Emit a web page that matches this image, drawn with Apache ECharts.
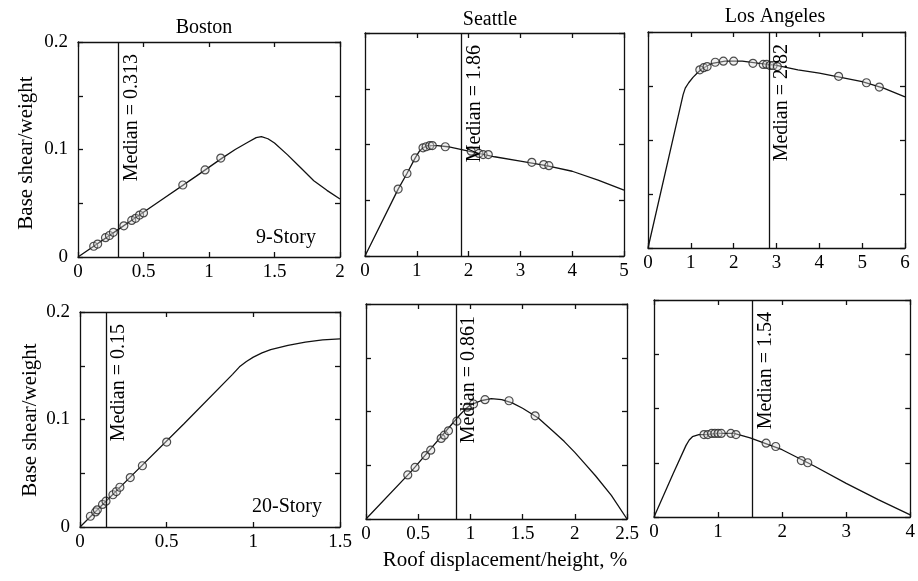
<!DOCTYPE html>
<html><head><meta charset="utf-8">
<script src="https://cdn.jsdelivr.net/npm/echarts@6/dist/echarts.min.js"></script>
<style>html,body{margin:0;padding:0;background:#fff}#c{width:918px;height:581px}</style>
</head><body><div id="c"></div>
<script>
// ---- text ----
const cityTitles = ['Boston', 'Seattle', 'Los Angeles'];
const storyLabels = ['9-Story', '20-Story'];
const yAxisTitle = 'Base shear/weight';
const xAxisTitle = 'Roof displacement/height, %';

// ---- axes ----
const xMax = [2, 5, 6, 1.5, 2.5, 4];
const xInterval = [0.5, 1, 1, 0.5, 0.5, 1];
const yMax = 0.2;
const yInterval = 0.05;
const yLabelValues = [0, 0.1, 0.2];

// ---- medians ----
const medians = [0.313, 1.86, 2.82, 0.15, 0.861, 1.54];
const medianLabels = ['Median = 0.313', 'Median = 1.86', 'Median = 2.82', 'Median = 0.15', 'Median = 0.861', 'Median = 1.54'];

// ---- pushover curves ----
const b9CurveX = [0, 0.3, 0.6, 0.9, 1.1, 1.2, 1.3, 1.36, 1.4, 1.45, 1.5, 1.6, 1.7, 1.8, 1.9, 2.0];
const b9CurveY = [0, 0.025, 0.050, 0.075, 0.092, 0.100, 0.107, 0.111, 0.112, 0.110, 0.106, 0.095, 0.083, 0.071, 0.062, 0.054];
const s9CurveX = [0, 0.64, 0.81, 0.97, 1.05, 1.12, 1.2, 1.4, 1.6, 1.8, 2.0, 2.5, 3.0, 3.5, 4.0, 4.5, 5.0];
const s9CurveY = [0, 0.060, 0.074, 0.088, 0.094, 0.097, 0.099, 0.099, 0.098, 0.096, 0.094, 0.089, 0.085, 0.081, 0.076, 0.068, 0.059];
const la9CurveX = [0, 0.82, 0.87, 0.95, 1.05, 1.15, 1.26, 1.4, 1.5, 1.8, 2.2, 2.6, 3.0, 3.5, 4.0, 4.5, 5.0, 5.5, 6.0];
const la9CurveY = [0, 0.142, 0.148, 0.153, 0.158, 0.162, 0.166, 0.169, 0.171, 0.173, 0.173, 0.171, 0.169, 0.165, 0.162, 0.158, 0.154, 0.148, 0.140];
const b20CurveX = [0, 0.3, 0.6, 0.88, 0.92, 0.96, 1.0, 1.05, 1.1, 1.2, 1.3, 1.4, 1.5];
const b20CurveY = [0, 0.048, 0.096, 0.142, 0.149, 0.154, 0.158, 0.162, 0.165, 0.169, 0.172, 0.174, 0.175];
const s20CurveX = [0, 0.44, 0.9, 0.95, 1.0, 1.05, 1.1, 1.2, 1.3, 1.4, 1.5, 1.65, 1.8, 1.9, 2.0, 2.1, 2.2, 2.35, 2.5];
const s20CurveY = [0, 0.045, 0.097, 0.102, 0.106, 0.108, 0.110, 0.112, 0.111, 0.108, 0.103, 0.094, 0.081, 0.072, 0.062, 0.051, 0.040, 0.022, 0];
const la20CurveX = [0, 0.3, 0.5, 0.55, 0.6, 0.7, 0.8, 1.0, 1.25, 1.5, 2.0, 2.5, 3.0, 3.5, 4.0];
const la20CurveY = [0, 0.040, 0.066, 0.071, 0.074, 0.076, 0.076, 0.077, 0.077, 0.073, 0.062, 0.047, 0.031, 0.016, 0.002];

// ---- ground-motion points ----
const b9PtsX = [0.12, 0.15, 0.21, 0.24, 0.27, 0.35, 0.41, 0.44, 0.47, 0.5, 0.8, 0.97, 1.09];
const b9PtsY = [0.010, 0.012, 0.018, 0.020, 0.023, 0.029, 0.034, 0.036, 0.039, 0.041, 0.067, 0.081, 0.092];
const s9PtsX = [0.64, 0.81, 0.97, 1.12, 1.18, 1.25, 1.3, 1.55, 2.05, 2.2, 2.28, 2.38, 3.22, 3.45, 3.55];
const s9PtsY = [0.060, 0.074, 0.088, 0.097, 0.098, 0.099, 0.099, 0.098, 0.094, 0.092, 0.091, 0.091, 0.084, 0.082, 0.081];
const la9PtsX = [1.21, 1.3, 1.38, 1.57, 1.76, 2.0, 2.45, 2.69, 2.77, 2.85, 2.92, 3.02, 4.45, 5.1, 5.4];
const la9PtsY = [0.165, 0.167, 0.168, 0.172, 0.173, 0.173, 0.171, 0.170, 0.170, 0.169, 0.169, 0.168, 0.159, 0.153, 0.149];
const b20PtsX = [0.06, 0.09, 0.1, 0.13, 0.15, 0.19, 0.21, 0.23, 0.29, 0.36, 0.5];
const b20PtsY = [0.010, 0.014, 0.016, 0.021, 0.024, 0.030, 0.033, 0.037, 0.046, 0.057, 0.079];
const s20PtsX = [0.4, 0.47, 0.57, 0.62, 0.72, 0.75, 0.79, 0.87, 0.97, 1.03, 1.14, 1.37, 1.62];
const s20PtsY = [0.041, 0.048, 0.059, 0.064, 0.075, 0.078, 0.082, 0.091, 0.104, 0.107, 0.111, 0.110, 0.096];
const la20PtsX = [0.78, 0.84, 0.9, 0.95, 1.0, 1.05, 1.2, 1.28, 1.75, 1.9, 2.3, 2.4];
const la20PtsY = [0.076, 0.076, 0.077, 0.077, 0.077, 0.077, 0.077, 0.076, 0.068, 0.065, 0.052, 0.050];

const curves = [[b9CurveX, b9CurveY], [s9CurveX, s9CurveY], [la9CurveX, la9CurveY], [b20CurveX, b20CurveY], [s20CurveX, s20CurveY], [la20CurveX, la20CurveY]];
const points = [[b9PtsX, b9PtsY], [s9PtsX, s9PtsY], [la9PtsX, la9PtsY], [b20PtsX, b20PtsY], [s20PtsX, s20PtsY], [la20PtsX, la20PtsY]];

// ---- layout ----
const gridBoxes = [
  {left: 78, top: 42, width: 262, height: 215},
  {left: 365, top: 33, width: 259, height: 223},
  {left: 648, top: 32, width: 257, height: 216},
  {left: 80, top: 312, width: 260, height: 215},
  {left: 366, top: 304, width: 261, height: 215},
  {left: 654, top: 300, width: 258, height: 217}
];

const FONT = '"Liberation Serif", "Times New Roman", serif';
const INK = '#111';
const zip = (xs, ys) => xs.map((x, i) => [x, ys[i]]);

const grid = [], xAxis = [], yAxis = [], series = [];
gridBoxes.forEach((g, i) => {
  grid.push(Object.assign({containLabel: false}, g));
  const lineStyle = {color: INK, width: 1.3};
  const axLine = {show: true, onZero: false, lineStyle};
  const tick = {show: true, inside: true, length: 5, lineStyle};
  xAxis.push({
    type: 'value', gridIndex: i, position: 'bottom', min: 0, max: xMax[i], interval: xInterval[i],
    axisLine: axLine, axisTick: tick, splitLine: {show: false},
    axisLabel: {show: true, color: '#000', fontFamily: FONT, fontSize: 19, margin: 6, showMinLabel: true, showMaxLabel: true}
  });
  xAxis.push({
    type: 'value', gridIndex: i, position: 'top', min: 0, max: xMax[i], interval: xInterval[i],
    axisLine: axLine, axisTick: tick, splitLine: {show: false}, axisLabel: {show: false}
  });
  const leftCol = (i % 3 === 0);
  yAxis.push({
    type: 'value', gridIndex: i, position: 'left', min: 0, max: yMax, interval: yInterval,
    axisLine: axLine, axisTick: tick, splitLine: {show: false},
    axisLabel: {
      show: leftCol, color: '#000', fontFamily: FONT, fontSize: 19, margin: 10,
      formatter: v => yLabelValues.some(t => Math.abs(t - v) < 1e-9) ? String(+v.toFixed(2)) : ''
    }
  });
  yAxis.push({
    type: 'value', gridIndex: i, position: 'right', min: 0, max: yMax, interval: yInterval,
    axisLine: axLine, axisTick: tick, splitLine: {show: false}, axisLabel: {show: false}
  });
  series.push({
    type: 'line', xAxisIndex: 2 * i, yAxisIndex: 2 * i, data: zip(curves[i][0], curves[i][1]),
    showSymbol: false, smooth: false, silent: true,
    lineStyle: {color: INK, width: 1.3}, z: 2,
    markLine: {
      silent: true, symbol: 'none', animation: false,
      lineStyle: {color: INK, width: 1.3, type: 'solid'},
      label: {show: true, position: 'insideEndBottom', distance: [12, 3], formatter: medianLabels[i],
        color: '#000', fontFamily: FONT, fontSize: 20},
      data: [{xAxis: medians[i]}]
    }
  });
  series.push({
    type: 'scatter', xAxisIndex: 2 * i, yAxisIndex: 2 * i, data: zip(points[i][0], points[i][1]),
    symbol: 'circle', symbolSize: 8, silent: true, z: 3,
    itemStyle: {color: 'rgba(220,220,220,0.5)', borderColor: '#222', borderWidth: 1.2}
  });
});

const txt = (text, x, y, size, rot) => ({
  type: 'text', x, y, rotation: rot || 0, silent: true,
  style: {text, fill: '#000', font: size + 'px ' + FONT, align: 'center', verticalAlign: 'middle',
    textAlign: 'center', textVerticalAlign: 'middle'}
});

const graphic = [
  txt(cityTitles[0], 204, 28, 20),
  txt(cityTitles[1], 490, 20, 20),
  txt(cityTitles[2], 775, 17, 20),
  txt(storyLabels[0], 286, 238, 20),
  txt(storyLabels[1], 287, 507, 20),
  txt(yAxisTitle, 26, 153, 21, Math.PI / 2),
  txt(yAxisTitle, 30, 420, 21, Math.PI / 2),
  txt(xAxisTitle, 505, 560, 21)
];

const chart = echarts.init(document.getElementById('c'), null, {renderer: 'canvas'});
chart.setOption({animation: false, backgroundColor: '#fff', grid, xAxis, yAxis, series, graphic});
</script>
</body></html>
